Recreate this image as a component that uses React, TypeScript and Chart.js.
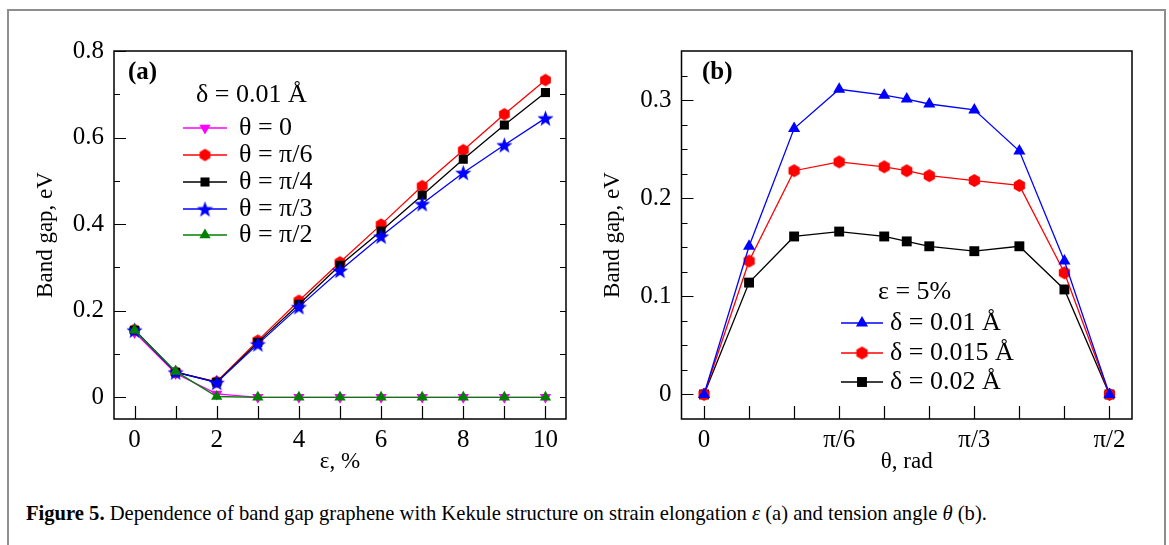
import React, { useEffect, useRef } from "react";
import { Chart, registerables } from "chart.js";
import { drawPoint } from "chart.js/helpers";

Chart.register(...registerables);

// ---------- Panel (a): band gap vs strain ----------
const strainPct = [0, 1, 2, 3, 4, 5, 6, 7, 8, 9, 10];
const gapTheta0 = [0.150, 0.055, 0.008, 0, 0, 0, 0, 0, 0, 0, 0];
const gapThetaPi6 = [0.156, 0.058, 0.036, 0.131, 0.223, 0.312, 0.399, 0.488, 0.571, 0.654, 0.733];
const gapThetaPi4 = [0.155, 0.058, 0.035, 0.127, 0.215, 0.305, 0.384, 0.467, 0.550, 0.629, 0.704];
const gapThetaPi3 = [0.155, 0.058, 0.034, 0.123, 0.209, 0.293, 0.372, 0.447, 0.519, 0.583, 0.645];
const gapThetaPi2 = [0.155, 0.060, 0.002, 0, 0, 0, 0, 0, 0, 0, 0];
const aSeriesLabels = ["θ = 0", "θ = π/6", "θ = π/4", "θ = π/3", "θ = π/2"];
const aXTickValues = [0, 2, 4, 6, 8, 10];
const aXTickMarks = [0, 1, 2, 3, 4, 5, 6, 7, 8, 9, 10];
const aYTickValues = [0, 0.2, 0.4, 0.6, 0.8];
const aYMinorTicks = [0.1, 0.3, 0.5, 0.7];
const aRightTicks = [0, 0.1, 0.2, 0.3, 0.4, 0.5, 0.6, 0.7];

// ---------- Panel (b): band gap vs tension angle ----------
const thetaDeg = [0, 10, 20, 30, 40, 45, 50, 60, 70, 80, 90];
const gapDelta001 = [0, 0.151, 0.271, 0.311, 0.305, 0.301, 0.296, 0.290, 0.248, 0.136, 0];
const gapDelta0015 = [0, 0.136, 0.228, 0.237, 0.232, 0.228, 0.223, 0.218, 0.213, 0.124, 0];
const gapDelta002 = [0, 0.114, 0.161, 0.166, 0.161, 0.156, 0.151, 0.146, 0.151, 0.107, 0];
const bSeriesLabels = ["δ = 0.01 Å", "δ = 0.015 Å", "δ = 0.02 Å"];
const bXTickValues = [0, 30, 60, 90];
const bXTickLabels = ["0", "π/6", "π/3", "π/2"];
const bXTickMarks = [0, 10, 20, 30, 40, 50, 60, 70, 80, 90];
const bYTickValues = [0, 0.1, 0.2, 0.3];
const bYMinorTicks = [0.025, 0.05, 0.075, 0.125, 0.15, 0.175, 0.225, 0.25, 0.275, 0.325];

const SERIF = '"Liberation Serif", "Times New Roman", serif';
const TICK_FONT = { family: SERIF, size: 25 };
const TITLE_FONT = { family: SERIF, size: 23 };
const LEGEND_SIZE = 26;

function makeHexagon(color: string, r: number) {
  const size = Math.ceil(r * 2 + 2);
  const c = document.createElement("canvas");
  c.width = size;
  c.height = size;
  const ctx = c.getContext("2d")!;
  ctx.fillStyle = color;
  ctx.beginPath();
  for (let i = 0; i < 6; i++) {
    const a = -Math.PI / 2 + (i * Math.PI) / 3;
    const x = size / 2 + r * Math.cos(a);
    const y = size / 2 + r * Math.sin(a);
    if (i === 0) ctx.moveTo(x, y);
    else ctx.lineTo(x, y);
  }
  ctx.closePath();
  ctx.fill();
  return c;
}

function makeStar(color: string, ro: number, ri: number) {
  const size = Math.ceil(ro * 2 + 2);
  const c = document.createElement("canvas");
  c.width = size;
  c.height = size;
  const ctx = c.getContext("2d")!;
  ctx.fillStyle = color;
  ctx.beginPath();
  for (let i = 0; i < 10; i++) {
    const r = i % 2 === 0 ? ro : ri;
    const a = -Math.PI / 2 + (i * Math.PI) / 5;
    const x = size / 2 + r * Math.cos(a);
    const y = size / 2 + 0.8 + r * Math.sin(a);
    if (i === 0) ctx.moveTo(x, y);
    else ctx.lineTo(x, y);
  }
  ctx.closePath();
  ctx.fill();
  return c;
}

type Series = {
  label: string;
  xs: number[];
  ys: number[];
  color: string;
  pointStyle: any;
  radius: number;
  rotation?: number;
  order: number;
};

type Decor = {
  bottomTicks: number[];
  bottomLen: number;
  leftMajor: number[];
  leftMajorLen: number;
  leftMinor: number[];
  leftMinorLen: number;
  rightTicks: number[];
  rightLen: number;
  panelLabel: string;
  panelLabelPos: [number, number];
  legendTitle: string;
  legendTitlePos: [number, number];
  legendLine: [number, number];
  legendTextX: number;
  legendRows: number[];
  series: Series[];
};

function decorPlugin(d: Decor) {
  return {
    id: "decor",
    afterDraw(chart: any) {
      const { ctx, chartArea: a } = chart;
      const x = chart.scales.x;
      const y = chart.scales.y;
      ctx.save();
      ctx.strokeStyle = "#000";
      ctx.lineWidth = 1.2;
      ctx.beginPath();
      d.bottomTicks.forEach((v) => {
        const px = Math.round(x.getPixelForValue(v)) + 0.5;
        ctx.moveTo(px, a.bottom);
        ctx.lineTo(px, a.bottom - d.bottomLen);
      });
      d.leftMajor.forEach((v) => {
        const py = Math.round(y.getPixelForValue(v)) + 0.5;
        ctx.moveTo(a.left, py);
        ctx.lineTo(a.left + d.leftMajorLen, py);
      });
      d.leftMinor.forEach((v) => {
        const py = Math.round(y.getPixelForValue(v)) + 0.5;
        ctx.moveTo(a.left, py);
        ctx.lineTo(a.left + d.leftMinorLen, py);
      });
      d.rightTicks.forEach((v) => {
        const py = Math.round(y.getPixelForValue(v)) + 0.5;
        ctx.moveTo(a.right, py);
        ctx.lineTo(a.right - d.rightLen, py);
      });
      ctx.stroke();
      ctx.lineWidth = 1.5;
      ctx.strokeRect(a.left, a.top, a.right - a.left, a.bottom - a.top);

      // panel label
      ctx.fillStyle = "#000";
      ctx.textBaseline = "middle";
      ctx.textAlign = "left";
      ctx.font = `bold 25px ${SERIF}`;
      ctx.fillText(d.panelLabel, d.panelLabelPos[0], d.panelLabelPos[1]);

      // legend
      ctx.font = `${LEGEND_SIZE}px ${SERIF}`;
      ctx.fillText(d.legendTitle, d.legendTitlePos[0], d.legendTitlePos[1]);
      d.series.forEach((s, i) => {
        const ry = d.legendRows[i];
        ctx.strokeStyle = s.color;
        ctx.lineWidth = 1.3;
        ctx.beginPath();
        ctx.moveTo(d.legendLine[0], ry);
        ctx.lineTo(d.legendLine[1], ry);
        ctx.stroke();
        ctx.fillStyle = s.color;
        drawPoint(
          ctx,
          { pointStyle: s.pointStyle, radius: s.radius, rotation: s.rotation || 0, borderWidth: 0 } as any,
          (d.legendLine[0] + d.legendLine[1]) / 2,
          ry
        );
        ctx.fillStyle = "#000";
        ctx.fillText(s.label, d.legendTextX, ry);
      });
      ctx.restore();
    },
  };
}

function makeChart(
  canvas: HTMLCanvasElement,
  series: Series[],
  decor: Decor,
  opts: {
    xMin: number;
    xMax: number;
    yMin: number;
    yMax: number;
    xTicks: number[];
    xLabel: (v: number) => string;
    yTicks: number[];
    xTitle: string;
    yTitle: string;
    padRight: number;
    yWidth: number;
    xHeight: number;
    yTitlePad: number;
  }
) {
  return new Chart(canvas, {
    type: "line",
    data: {
      datasets: series.map((s) => ({
        label: s.label,
        data: s.xs.map((xv, i) => ({ x: xv, y: s.ys[i] })),
        borderColor: s.color,
        backgroundColor: s.color,
        borderWidth: 1.3,
        pointStyle: s.pointStyle,
        pointRadius: s.radius,
        pointRotation: s.rotation || 0,
        pointBackgroundColor: s.color,
        pointBorderColor: s.color,
        pointBorderWidth: 0,
        tension: 0,
        order: s.order,
        clip: false as any,
      })),
    },
    options: {
      animation: false,
      responsive: false,
      devicePixelRatio: 1,
      layout: { padding: { top: 51, right: opts.padRight, left: 0, bottom: 0 } },
      plugins: { legend: { display: false }, tooltip: { enabled: false } },
      scales: {
        x: {
          type: "linear",
          min: opts.xMin,
          max: opts.xMax,
          grid: { display: false, drawTicks: false },
          border: { display: false },
          afterBuildTicks: (s: any) => {
            s.ticks = opts.xTicks.map((v) => ({ value: v }));
          },
          afterFit: (s: any) => {
            s.height = opts.xHeight;
          },
          ticks: {
            autoSkip: false,
            maxRotation: 0,
            padding: 6,
            color: "#000",
            font: TICK_FONT,
            callback: (v: any) => opts.xLabel(Number(v)),
          },
          title: {
            display: true,
            text: opts.xTitle,
            color: "#000",
            font: TITLE_FONT,
            padding: { top: 0, bottom: 4 },
          },
        },
        y: {
          type: "linear",
          min: opts.yMin,
          max: opts.yMax,
          grid: { display: false, drawTicks: false },
          border: { display: false },
          afterBuildTicks: (s: any) => {
            s.ticks = opts.yTicks.map((v) => ({ value: v }));
          },
          afterFit: (s: any) => {
            s.width = opts.yWidth;
          },
          ticks: {
            autoSkip: false,
            padding: 10,
            color: "#000",
            font: TICK_FONT,
            callback: (v: any) => String(v),
          },
          title: {
            display: true,
            text: opts.yTitle,
            color: "#000",
            font: TITLE_FONT,
            padding: { top: opts.yTitlePad, bottom: 0 },
          },
        },
      },
    } as any,
    plugins: [decorPlugin(decor)],
  });
}

export default function App() {
  const refA = useRef<HTMLCanvasElement>(null);
  const refB = useRef<HTMLCanvasElement>(null);

  useEffect(() => {
    const hexA = makeHexagon("#ff0000", 6.2);
    const starA = makeStar("#0000ff", 8.5, 3.5);
    const seriesA: Series[] = [
      { label: aSeriesLabels[0], xs: strainPct, ys: gapTheta0, color: "#ff00ff", pointStyle: "triangle", radius: 6.5, rotation: 180, order: 4 },
      { label: aSeriesLabels[1], xs: strainPct, ys: gapThetaPi6, color: "#ff0000", pointStyle: hexA, radius: 6, order: 3 },
      { label: aSeriesLabels[2], xs: strainPct, ys: gapThetaPi4, color: "#000000", pointStyle: "rect", radius: 6.4, order: 2 },
      { label: aSeriesLabels[3], xs: strainPct, ys: gapThetaPi3, color: "#0000ff", pointStyle: starA, radius: 8, order: 1 },
      { label: aSeriesLabels[4], xs: strainPct, ys: gapThetaPi2, color: "#008000", pointStyle: "triangle", radius: 6.5, order: 0 },
    ];
    const hexB = makeHexagon("#ff0000", 6.5);
    const seriesB: Series[] = [
      { label: bSeriesLabels[0], xs: thetaDeg, ys: gapDelta001, color: "#0000ff", pointStyle: "triangle", radius: 7, order: 0 },
      { label: bSeriesLabels[1], xs: thetaDeg, ys: gapDelta0015, color: "#ff0000", pointStyle: hexB, radius: 6, order: 1 },
      { label: bSeriesLabels[2], xs: thetaDeg, ys: gapDelta002, color: "#000000", pointStyle: "rect", radius: 7, order: 2 },
    ];

    const chartA = makeChart(
      refA.current!,
      seriesA,
      {
        bottomTicks: aXTickMarks,
        bottomLen: 13,
        leftMajor: aYTickValues,
        leftMajorLen: 12,
        leftMinor: aYMinorTicks,
        leftMinorLen: 6,
        rightTicks: aRightTicks,
        rightLen: 6,
        panelLabel: "(a)",
        panelLabelPos: [128, 73],
        legendTitle: "δ = 0.01 Å",
        legendTitlePos: [196, 95],
        legendLine: [183, 227],
        legendTextX: 239,
        legendRows: [128, 155, 182, 209, 235],
        series: seriesA,
      },
      {
        xMin: -0.5,
        xMax: 10.5,
        yMin: -0.05,
        yMax: 0.8,
        xTicks: aXTickValues,
        xLabel: (v) => String(v),
        yTicks: aYTickValues,
        xTitle: "ε, %",
        yTitle: "Band gap, eV",
        padRight: 24,
        yWidth: 114,
        xHeight: 61,
        yTitlePad: 32,
      }
    );

    const chartB = makeChart(
      refB.current!,
      seriesB,
      {
        bottomTicks: bXTickMarks,
        bottomLen: 13,
        leftMajor: bYTickValues,
        leftMajorLen: 12,
        leftMinor: bYMinorTicks,
        leftMinorLen: 6,
        rightTicks: [],
        rightLen: 0,
        panelLabel: "(b)",
        panelLabelPos: [112, 73],
        legendTitle: "ε = 5%",
        legendTitlePos: [288, 292],
        legendLine: [251, 293],
        legendTextX: 300,
        legendRows: [323, 353, 382],
        series: seriesB,
      },
      {
        xMin: -5,
        xMax: 95,
        yMin: -0.025,
        yMax: 0.35,
        xTicks: bXTickValues,
        xLabel: (v) => bXTickLabels[bXTickValues.indexOf(v)] ?? "",
        yTicks: bYTickValues,
        xTitle: "θ, rad",
        yTitle: "Band gap, eV",
        padRight: 37,
        yWidth: 91.5,
        xHeight: 61,
        yTitlePad: 9,
      }
    );

    return () => {
      chartA.destroy();
      chartB.destroy();
    };
  }, []);

  return (
    <div
      style={{
        position: "absolute",
        left: 0,
        top: 0,
        width: 1169,
        height: 545,
        background: "#fff",
        overflow: "hidden",
      }}
    >
      <div
        style={{
          position: "absolute",
          left: 7,
          top: 9,
          width: 1159,
          height: 600,
          border: "2px solid #8e8e8e",
          boxSizing: "border-box",
        }}
      />
      <canvas ref={refA} width={590} height={480} style={{ position: "absolute", left: 0, top: 0 }} />
      <canvas ref={refB} width={579} height={480} style={{ position: "absolute", left: 590, top: 0 }} />
      <div
        style={{
          position: "absolute",
          left: 26,
          top: 502,
          fontFamily: SERIF,
          fontSize: 20.6,
          whiteSpace: "nowrap",
          color: "#000",
        }}
      >
        <b>Figure 5.</b> Dependence of band gap graphene with Kekule structure on strain elongation <i>ε</i> (a) and
        tension angle <i>θ</i> (b).
      </div>
    </div>
  );
}
